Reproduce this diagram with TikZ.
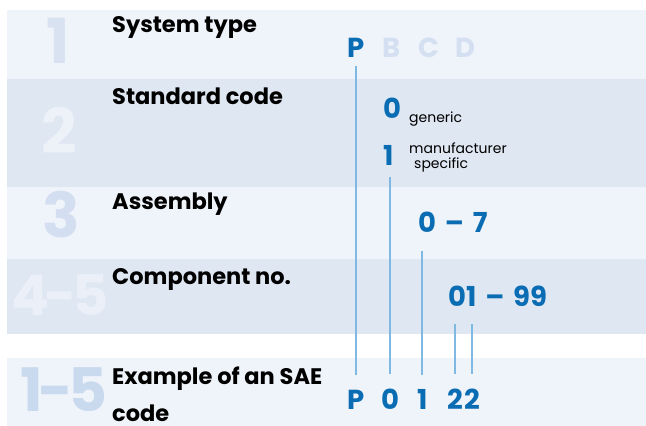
\documentclass[tikz,border=0pt]{standalone}
\usepackage{fontspec}
\setmainfont{Poppins}
\usepackage{tikz}
\usetikzlibrary{positioning}

\begin{document}
\begin{tikzpicture}[x=1pt, y=-1pt,
  bignum/.style={anchor=base, inner sep=0pt, font=\bfseries\fontsize{62}{62}\selectfont},
  rowlabel/.style={anchor=base west, inner sep=0pt, font=\bfseries\fontsize{22.5}{37}\selectfont},
  codechar/.style={anchor=base west, inner sep=0pt, text=codeb, font=\bfseries\fontsize{27.5}{27}\selectfont},
  note/.style={anchor=base west, inner sep=0pt, font=\fontsize{14}{15}\selectfont},
  codeline/.style={draw=linec, line width=2pt}]

\definecolor{bandl}{HTML}{EFF3FA}
\definecolor{bandd}{HTML}{DFE7F3}
\definecolor{codeb}{HTML}{0A6CB3}
\definecolor{linec}{HTML}{7FB8E2}
\definecolor{palec}{HTML}{D4E0F1}

\useasboundingbox (0,0) rectangle (646,426);

% rows
\fill[bandl] (7,10)  rectangle (646,79);
\fill[bandd] (7,79)  rectangle (646,187);
\fill[bandl] (7,187) rectangle (646,259);
\fill[bandd] (7,259) rectangle (646,334);
\fill[bandl] (7,358) rectangle (646,426);

% row numbers
\node[bignum] (n1) at (58,63) {\color[HTML]{D8E2F1}1};
\node[bignum] (n2) at (59,153) {\color[HTML]{EDF2F9}2};
\node[bignum] (n3) at (61,237) {\color[HTML]{D3DEF0}3};
\node[bignum, font=\bfseries\fontsize{56}{56}\selectfont] (n45) at (60,315) {\color[HTML]{EBF0F8}4\kern-5pt-\kern-5pt5};
\node[bignum, font=\bfseries\fontsize{60}{60}\selectfont] (n15) at (64,411) {\color[HTML]{C9D9EE}1\kern-5pt-\kern-5pt5};

% row titles
\node[rowlabel] (sys)  at (112,32)  {System type};
\node[rowlabel] (std)  at (112,104) {Standard code};
\node[rowlabel] (asm)  at (112,209) {Assembly};
\node[rowlabel] (comp) at (112,284) {Component no.};
\node[rowlabel, align=left] (ex) at (112,421) {Example of an SAE\\code};

% code choices
\node[codechar] (sysP) at (347,57) {P};
\node[codechar, text=palec] (sysB) at (382,57) {B};
\node[codechar, text=palec] (sysC) at (418,57) {C};
\node[codechar, text=palec] (sysD) at (455,57) {D};

\node[codechar] (std0) at (383,118) {0};
\node[note] (gen) at (409,122) {generic};
\node[codechar] (std1) at (383,165) {1};
\node[note, align=left] (man) at (409,168) {manufacturer\\\hspace*{5pt}specific};

\node[codechar] (asmr) at (418,232) {0\kern3pt{} -- \kern3pt7};
\node[codechar] (compr) at (448,306) {01\kern3pt{} -- \kern3pt99};

% example code
\node[codechar] (exP)  at (347,409) {P};
\node[codechar] (ex0)  at (381,409) {0};
\node[codechar] (ex1)  at (417,409) {1};
\node[codechar] (ex2a) at (447,409) {2};
\node[codechar] (ex2b) at (464,409) {2};

\draw[codeline, shorten <=9pt, shorten >=14pt] (sysP.base) -- (exP.north);
\draw[codeline, shorten <=12pt, shorten >=14pt] (ex0.north |- std1.base) -- (ex0.north);
\draw[codeline, shorten <=19pt, shorten >=14pt] (ex1.north |- asmr.base) -- (ex1.north);
\draw[codeline, shorten <=18pt, shorten >=14pt] (ex2a.north |- compr.base) -- (ex2a.north);
\draw[codeline, shorten <=18pt, shorten >=14pt] (ex2b.north |- compr.base) -- (ex2b.north);

\end{tikzpicture}
\end{document}
